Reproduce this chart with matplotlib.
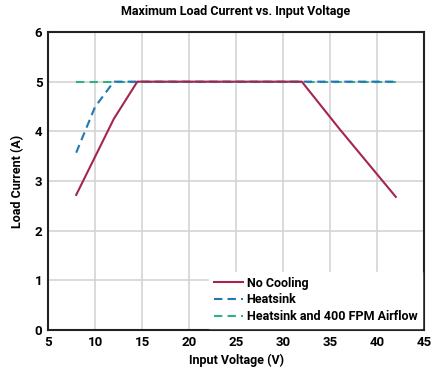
import matplotlib as mpl
mpl.use('Agg')
import matplotlib.pyplot as plt

# data
vin_nc = [8, 12, 14.5, 32, 36, 42]
i_nc = [2.72, 4.25, 5.0, 5.0, 4.05, 2.68]

vin_hs = [8, 10, 12, 42]
i_hs = [3.57, 4.49, 5.0, 5.0]

vin_air = [8, 42]
i_air = [5.0, 5.0]

c_nc = '#a4264f'
c_hs = '#1f78b4'
c_air = '#2bb386'

plt.rcParams['font.family'] = ['Roboto', 'DejaVu Sans']
plt.rcParams['font.weight'] = 'bold'

fig = plt.figure(figsize=(4.42, 3.75), dpi=100)
ax = fig.add_axes([0.1086, 0.12, 0.8507, 0.7947])

ax.plot(vin_air, i_air, color=c_air, lw=1.5, ls=(0, (4, 2.5)), label='Heatsink and 400 FPM Airflow', zorder=2)
ax.plot(vin_hs, i_hs, color=c_hs, lw=1.5, ls=(0, (4, 2.5)), label='Heatsink', zorder=3)
ax.plot(vin_nc, i_nc, color=c_nc, lw=1.5, label='No Cooling', zorder=4)

ax.set_xlim(5, 45)
ax.set_ylim(0, 6)
ax.set_xticks(range(5, 46, 5))
ax.set_yticks(range(0, 7))
ax.grid(True, color='#d4d4d4', lw=1.2)
ax.set_axisbelow(True)
ax.tick_params(length=0, labelsize=9.5, pad=4)
for s in ax.spines.values():
    s.set_linewidth(1.5)
    s.set_color('#222222')

ax.set_xlabel('Input Voltage (V)', fontsize=9, fontweight='bold', labelpad=4)
ax.set_ylabel('Load Current (A)', fontsize=9, fontweight='bold', labelpad=8)
ax.set_title('Maximum Load Current vs. Input Voltage', fontsize=9, fontweight='bold', pad=12)

h, l = ax.get_legend_handles_labels()
leg = ax.legend(h[::-1], l[::-1], loc='lower right', fontsize=9, frameon=True,
                fancybox=False, edgecolor='white', framealpha=1, handlelength=2.3,
                handletextpad=0.3, labelspacing=0.3, borderaxespad=0.15)
for t in leg.get_texts():
    t.set_fontweight('bold')

plt.savefig('out.png', dpi=100)
plt.close()
